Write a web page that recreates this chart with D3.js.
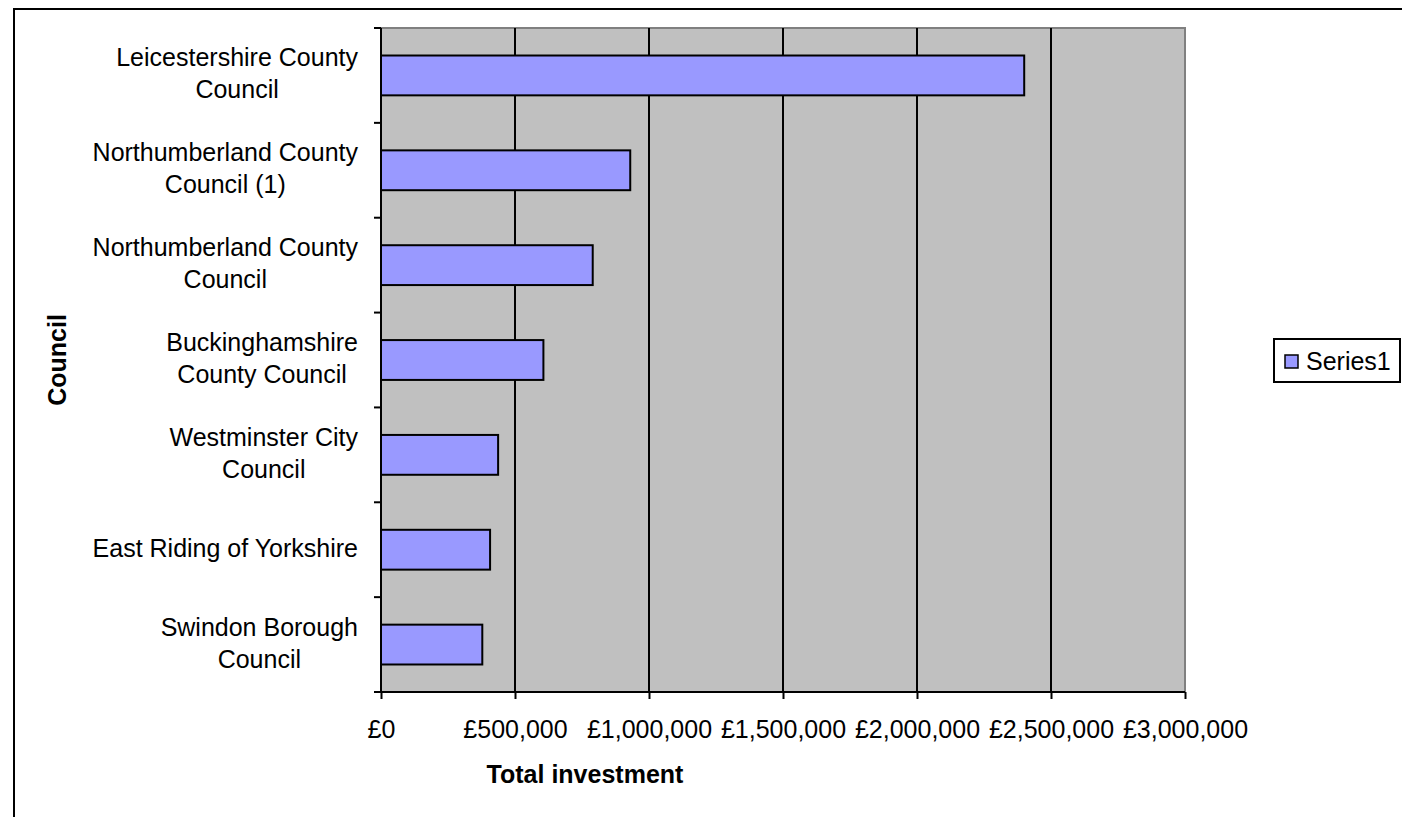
<!DOCTYPE html>
<html>
<head>
<meta charset="utf-8">
<script src="https://cdn.jsdelivr.net/npm/d3@7"></script>
<style>
  body { margin: 0; background: #fff; }
  svg { display: block; font-family: "Liberation Sans", Arial, sans-serif; }
</style>
</head>
<body>
<svg id="chart" width="1402" height="817"></svg>
<script>
// data
var councils = [
    ["Leicestershire County", "Council"],
    ["Northumberland County", "Council (1)"],
    ["Northumberland County", "Council"],
    ["Buckinghamshire", "County Council"],
    ["Westminster City", "Council"],
    ["East Riding of Yorkshire"],
    ["Swindon Borough", "Council"]
]
var investment = [2400000, 930000, 790000, 606000, 437000, 407000, 378000]
var x_ticks = [0, 500000, 1000000, 1500000, 2000000, 2500000, 3000000]
var series_name = "Series1"

var svg = d3.select("#chart")
var fs = 25

var plot = {left: 381, top: 28, right: 1185, bottom: 692}

// outer chart border (runs off the right and bottom of the picture)
svg.append("rect")
    .attr("x", 14).attr("y", 9)
    .attr("width", 1500).attr("height", 900)
    .attr("fill", "none")
    .attr("stroke", "black")
    .attr("stroke-width", 2)

var xScale = d3.scaleLinear().domain([0, 3000000]).range([plot.left, plot.right])
var yScale = d3.scaleBand().domain(d3.range(councils.length))
    .range([plot.top, plot.bottom])
    .paddingInner(0.58).paddingOuter(0.29)
var bandStep = (plot.bottom - plot.top) / councils.length

// plot background
svg.append("rect")
    .attr("x", plot.left).attr("y", plot.top)
    .attr("width", plot.right - plot.left).attr("height", plot.bottom - plot.top)
    .attr("fill", "#c0c0c0")

// gray border top and right
svg.append("path")
    .attr("d", "M " + plot.left + " " + plot.top + " L " + plot.right + " " + plot.top + " L " + plot.right + " " + plot.bottom)
    .attr("fill", "none")
    .attr("stroke", "#808080")
    .attr("stroke-width", 2)

// gridlines
svg.append("g").selectAll("line")
    .data(x_ticks.slice(1, -1))
    .enter().append("line")
    .attr("x1", function(d) { return xScale(d) }).attr("x2", function(d) { return xScale(d) })
    .attr("y1", plot.top).attr("y2", plot.bottom)
    .attr("stroke", "black")
    .attr("stroke-width", 2)

// bars
svg.append("g").selectAll("rect")
    .data(investment)
    .enter().append("rect")
    .attr("x", xScale(0))
    .attr("y", function(d, i) { return yScale(i) })
    .attr("width", function(d) { return xScale(d) - xScale(0) })
    .attr("height", yScale.bandwidth())
    .attr("fill", "#9999ff")
    .attr("stroke", "black")
    .attr("stroke-width", 2)

// x axis
var xAxis = svg.append("g")
    .attr("transform", "translate(0," + plot.bottom + ")")
    .call(d3.axisBottom(xScale).tickValues(x_ticks).tickSize(7).tickSizeOuter(0)
        .tickFormat(function(d) { return "£" + d3.format(",")(d) }))
xAxis.select(".domain").attr("stroke", "black").attr("stroke-width", 2)
    .attr("d", "M" + (plot.left - 7) + ",0H" + plot.right)
xAxis.selectAll(".tick line").attr("stroke", "black").attr("stroke-width", 2)
xAxis.selectAll(".tick text")
    .attr("y", 46).attr("dy", 0)
    .attr("font-size", fs)
    .attr("font-family", "Liberation Sans, Arial, sans-serif")
    .attr("fill", "black")

// y axis line and ticks at band boundaries
svg.append("line")
    .attr("x1", plot.left).attr("x2", plot.left)
    .attr("y1", plot.top).attr("y2", plot.bottom)
    .attr("stroke", "black").attr("stroke-width", 2)
svg.append("g").selectAll("line")
    .data(d3.range(councils.length + 1))
    .enter().append("line")
    .attr("x1", plot.left - 7).attr("x2", plot.left)
    .attr("y1", function(d) { return plot.top + d * bandStep })
    .attr("y2", function(d) { return plot.top + d * bandStep })
    .attr("stroke", "black").attr("stroke-width", 2)

// category labels: centred lines, block right-aligned
var lineH = 32
councils.forEach(function(lines, i) {
    var cy = plot.top + (i + 0.5) * bandStep - 2
    var g = svg.append("g")
    var texts = g.selectAll("text")
        .data(lines)
        .enter().append("text")
        .attr("font-size", fs)
        .attr("fill", "black")
        .attr("text-anchor", "middle")
        .attr("y", function(d, j) { return cy + (j - (lines.length - 1) / 2) * lineH + fs * 0.36 })
        .text(function(d) { return d })
    var maxW = 0
    texts.each(function() { maxW = Math.max(maxW, this.getComputedTextLength()) })
    texts.attr("x", 358 - maxW / 2)
})

// axis titles
svg.append("text")
    .attr("x", 585).attr("y", 783)
    .attr("text-anchor", "middle")
    .attr("font-size", fs).attr("font-weight", "bold")
    .text("Total investment")

svg.append("text")
    .attr("transform", "translate(66," + ((plot.top + plot.bottom) / 2) + ") rotate(-90)")
    .attr("text-anchor", "middle")
    .attr("font-size", fs).attr("font-weight", "bold")
    .text("Council")

// legend
var legend = svg.append("g")
legend.append("rect")
    .attr("x", 1274).attr("y", 339).attr("width", 126).attr("height", 43)
    .attr("fill", "white").attr("stroke", "black").attr("stroke-width", 2)
legend.append("rect")
    .attr("x", 1285).attr("y", 355).attr("width", 13).attr("height", 13)
    .attr("fill", "#9999ff").attr("stroke", "black").attr("stroke-width", 1.5)
legend.append("text")
    .attr("x", 1306).attr("y", 370)
    .attr("font-size", fs)
    .text(series_name)
</script>
</body>
</html>
